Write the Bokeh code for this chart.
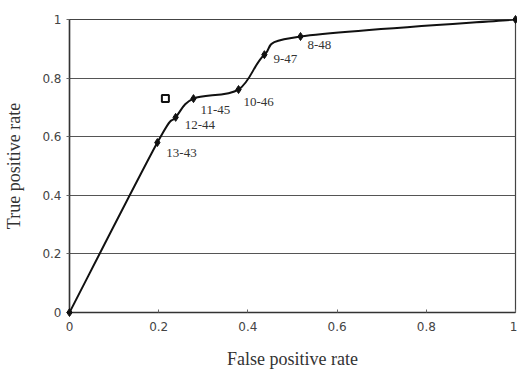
from bokeh.plotting import figure
from bokeh.models import Range1d, FixedTicker, NumeralTickFormatter, ColumnDataSource
from bokeh.core.properties import value
from bokeh.embed import file_html
from bokeh.resources import INLINE

# ROC points (false positive rate, true positive rate)
fpr = [0.0, 0.197, 0.238, 0.278, 0.379, 0.437, 0.518, 1.0]
tpr = [0.0, 0.58, 0.666, 0.73, 0.761, 0.88, 0.942, 1.0]
labels = ["", "13-43", "12-44", "11-45", "10-46", "9-47", "8-48", ""]
label_dx = [0, 9, 9, 7, 5, 9, 7, 0]
label_dy = [0, 10, 8, 11, 12, 4, 9, 0]
square_x = [0.215]
square_y = [0.73]
ticks = [0, 0.2, 0.4, 0.6, 0.8, 1]

p = figure(width=517, height=371, output_backend="svg", toolbar_location=None,
           x_range=Range1d(0, 1), y_range=Range1d(0, 1),
           min_border_left=69, min_border_right=2, min_border_top=19, min_border_bottom=59)
p.background_fill_color = "white"
p.border_fill_color = "white"
p.outline_line_color = "#444444"
p.outline_line_width = 1.2

p.xgrid.visible = False
p.ygrid.ticker = FixedTicker(ticks=ticks)
p.ygrid.grid_line_color = "#555555"
p.ygrid.grid_line_width = 1.2

for ax in (p.xaxis, p.yaxis):
    ax.ticker = FixedTicker(ticks=ticks)
    ax.formatter = NumeralTickFormatter(format="0.[0]")
    ax.axis_line_color = "#333333"
    ax.axis_line_width = 1.5
    ax.major_tick_line_color = "#666666"
    ax.minor_tick_line_color = None
    ax.major_label_text_font = "DejaVu Sans"
    ax.major_label_text_font_size = "12px"
    ax.major_label_text_color = "#444444"
    ax.axis_label_text_font = "Liberation Serif"
    ax.axis_label_text_font_style = "normal"
    ax.axis_label_text_font_size = "18px"
    ax.axis_label_text_color = "#333333"

p.xaxis.major_tick_in = 3
p.xaxis.major_tick_out = 0
p.yaxis.major_tick_in = 0
p.yaxis.major_tick_out = 3
p.xaxis.axis_label = "False positive rate"
p.yaxis.axis_label = "True positive rate"
p.xaxis.major_label_standoff = 9
p.yaxis.major_label_standoff = 5
p.xaxis.axis_label_standoff = 15
p.yaxis.axis_label_standoff = 15

# smooth curve through points (Catmull-Rom -> cubic Bezier)
n = len(fpr)
x0s, y0s, x1s, y1s, cx0, cy0, cx1, cy1 = [], [], [], [], [], [], [], []
for i in range(n - 1):
    pm = (fpr[max(i - 1, 0)], tpr[max(i - 1, 0)])
    p0 = (fpr[i], tpr[i])
    p1 = (fpr[i + 1], tpr[i + 1])
    p2 = (fpr[min(i + 2, n - 1)], tpr[min(i + 2, n - 1)])
    t = 6.0
    x0s.append(p0[0]); y0s.append(p0[1]); x1s.append(p1[0]); y1s.append(p1[1])
    cx0.append(p0[0] + (p1[0] - pm[0]) / t); cy0.append(p0[1] + (p1[1] - pm[1]) / t)
    cx1.append(p1[0] - (p2[0] - p0[0]) / t); cy1.append(p1[1] - (p2[1] - p0[1]) / t)
p.bezier(x0=x0s, y0=y0s, x1=x1s, y1=y1s, cx0=cx0, cy0=cy0, cx1=cx1, cy1=cy1,
         line_color="#111111", line_width=2)

src = ColumnDataSource(dict(x=fpr, y=tpr, lab=labels, dx=label_dx, dy=label_dy))
p.scatter("x", "y", source=src, marker="diamond", size=8, color="#111111", level="overlay")
p.scatter(square_x, square_y, marker="square", size=7, fill_color="white",
          line_color="#111111", line_width=2, level="overlay")
p.text("x", "y", text="lab", source=src, x_offset="dx", y_offset="dy",
       text_font=value("Liberation Serif"), text_font_size="13px", text_color="#333333",
       text_baseline="middle", text_align="left", level="overlay")

open("out.html", "w").write(file_html(p, INLINE))
